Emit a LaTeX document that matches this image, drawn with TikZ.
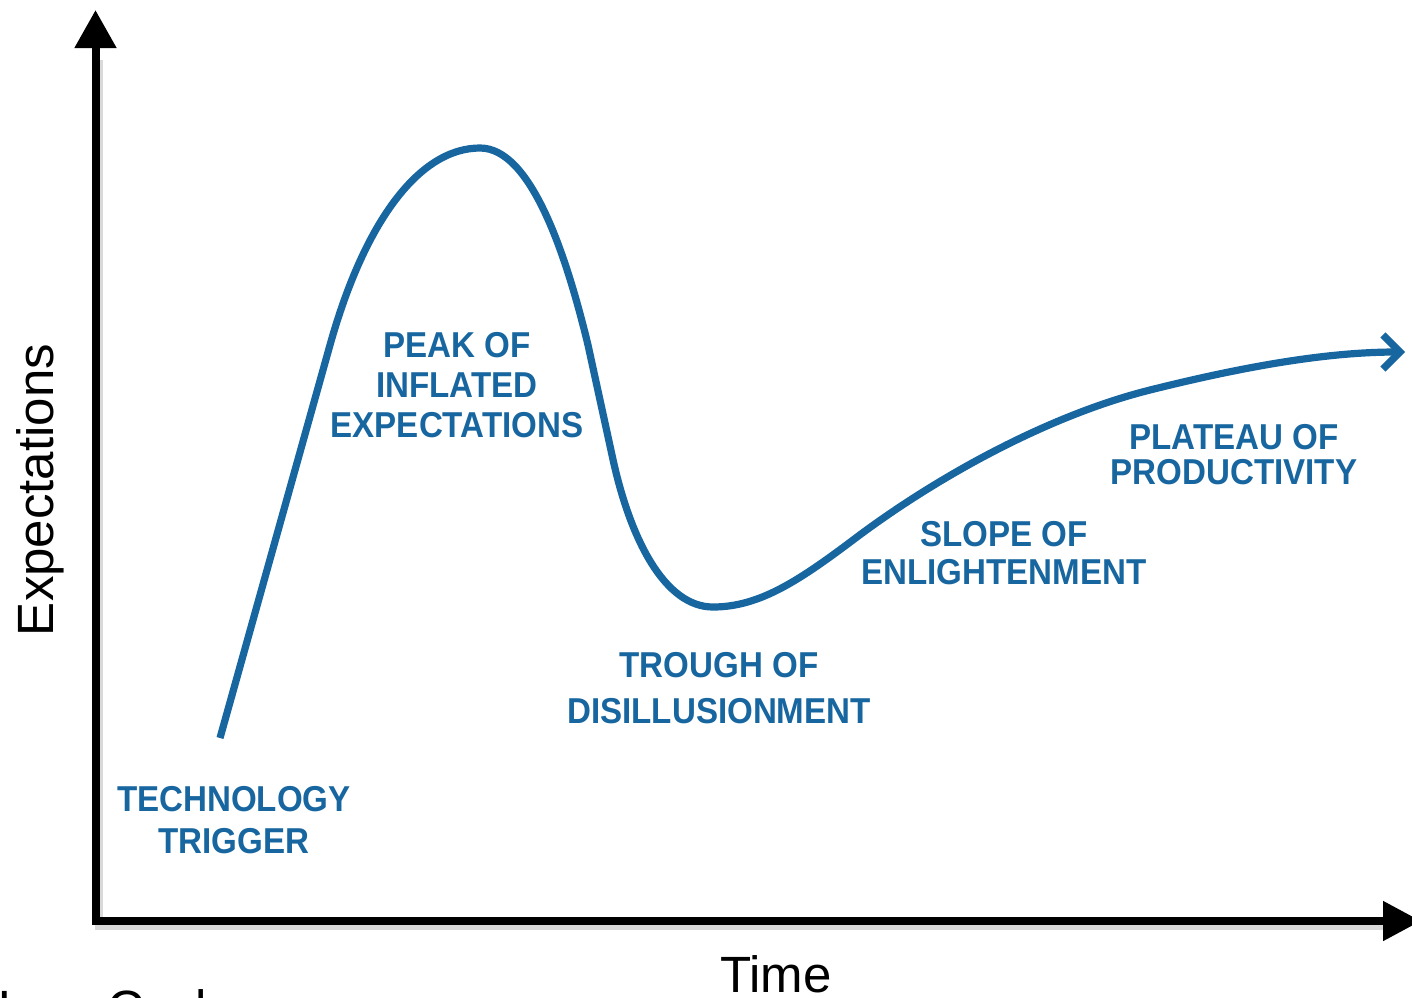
\documentclass[tikz,border=0pt]{standalone}
\usepackage{fontspec}
\setmainfont{Liberation Sans}
\newfontfamily\labfont{Liberation Sans Bold}[FakeStretch=0.92]
\usetikzlibrary{arrows.meta}
\definecolor{hypeblue}{RGB}{24,102,160}
\newcommand\lblfont[1]{\labfont\fontsize{18pt}{#1}\selectfont}
\tikzset{
 axisline/.style={line width=4pt, black, line join=miter},
 shadowline/.style={line width=4pt, black!15},
 hype/.style={line width=3.6pt, hypeblue, line cap=butt, line join=round},
 lbl/.style={text=hypeblue, align=center, inner sep=0pt},
 axlabel/.style={font=\fontsize{25.5pt}{30pt}\selectfont, inner sep=0pt},
}
\begin{document}
\begin{tikzpicture}[x=0.5pt,y=-0.5pt]
\useasboundingbox (0,0) rectangle (1412,997);
\fill[white] (0,0) rectangle (1412,997);
% axes
\coordinate (ytip) at (95.5,10);
\coordinate (orig) at (95.5,921);
\coordinate (xtip) at (1421,921);
\coordinate (sh1) at (99,60);
\coordinate (sh2) at (99,926);
\coordinate (sh3) at (1385,926);
\draw[shadowline] (sh1) -- (sh2) -- (sh3);
\draw[axisline, {Triangle[length=19pt,width=20pt]}-{Triangle[length=19pt,width=19pt]}] (ytip) -- (orig) -- (xtip);
% hype curve
\coordinate (start) at (220,738);
\coordinate (peak) at (480,148);
\coordinate (trough) at (713,607);
\coordinate (finish) at (1405,352);
\draw[hype, -{Straight Barb[length=8.5pt,width=17pt]}]
 (start) -- (330,345)
 .. controls (365,220) and (420,148) .. (peak)
 .. controls (530,148) and (565,250) .. (588,345)
 -- (612,455)
 .. controls (630,540) and (665,607) .. (trough)
 .. controls (760,607) and (800,580) .. (857,537)
 .. controls (940,475) and (1050,415) .. (1150,390)
 .. controls (1250,365) and (1330,352) .. (finish);
% labels
\node[lbl, font=\lblfont{20pt}] (peaklbl) at (457,385) {PEAK OF\\INFLATED\\EXPECTATIONS};
\node[lbl, font=\lblfont{21pt}] (trigger) at (234,820) {TECHNOLOGY\\TRIGGER};
\node[lbl, font=\lblfont{23pt}] (troughlbl) at (719,688) {TROUGH OF\\DISILLUSIONMENT};
\node[lbl, font=\lblfont{19pt}] (slope) at (1004,553) {SLOPE OF\\ENLIGHTENMENT};
\node[lbl, font=\lblfont{17.5pt}] (plateau) at (1234,455) {PLATEAU OF\\PRODUCTIVITY};
% axis labels
\node[axlabel, rotate=90, anchor=base] (ylab) at (53,490) {Expectations};
\node[axlabel, anchor=base] (xlab) at (776,992) {Time};
\node[axlabel, anchor=base west] (cap) at (-26,1026) {Hype Cycle};
\end{tikzpicture}
\end{document}
